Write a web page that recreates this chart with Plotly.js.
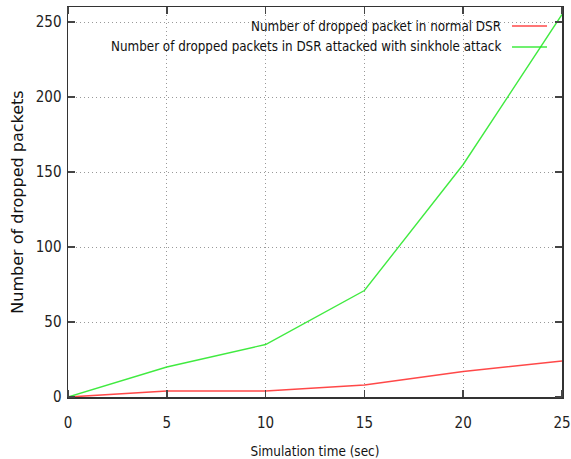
<!DOCTYPE html>
<html><head><meta charset="utf-8">
<script src="https://cdn.plot.ly/plotly-3.0.1.min.js"></script>
<style>html,body{margin:0;padding:0;background:#fff}#c{width:571px;height:459px}</style>
</head><body><div id="c"></div>
<script>
const timeSec = [0, 5, 10, 15, 20, 25];
const droppedNormal = [0, 4, 4, 8, 17, 24];
const droppedSinkhole = [0, 20, 35, 71, 155, 255];
const seriesNames = ["Number of dropped packet in normal DSR", "Number of dropped packets in DSR attacked with sinkhole attack"];
const xTicks = [0, 5, 10, 15, 20, 25];
const yTicks = [0, 50, 100, 150, 200, 250];

const FONT = "'DejaVu Sans Condensed', 'Liberation Sans Narrow', 'DejaVu Sans', sans-serif";
const lineColors = ["rgba(255,40,40,0.85)", "rgba(30,230,30,0.85)"];

const traces = [
  {x: timeSec, y: droppedNormal, name: seriesNames[0], mode: "lines", line: {color: lineColors[0], width: 1.6}},
  {x: timeSec, y: droppedSinkhole, name: seriesNames[1], mode: "lines", line: {color: lineColors[1], width: 1.4}}
];

function axis(vals, outLen) {
  return {
    showline: true, linecolor: "#333", linewidth: 1.5, mirror: "ticks",
    tickvals: vals, ticktext: vals.map(String),
    ticks: "outside", ticklen: outLen, tickwidth: 1, tickcolor: "rgba(0,0,0,0)",
    minor: {tickvals: vals, ticks: "inside", ticklen: 7, tickwidth: 1.5, tickcolor: "#444", showgrid: false},
    showgrid: true, gridcolor: "#999", griddash: "1px,3px", gridwidth: 1,
    zeroline: false, tickfont: {family: FONT, size: 15, color: "#222"}
  };
}

const legendY = [26, 47];
const annotations = seriesNames.map((n, i) => ({
  xref: "paper", yref: "paper", x: (503 - 68) / (562 - 68), y: (397 - legendY[i]) / (397 - 7),
  xanchor: "right", yanchor: "middle", text: n, showarrow: false,
  font: {family: FONT, size: 13.3, color: "#111"}
}));
const shapes = seriesNames.map((n, i) => ({
  type: "line", xref: "paper", yref: "paper",
  x0: (512 - 68) / (562 - 68), x1: (547 - 68) / (562 - 68),
  y0: (397 - legendY[i]) / (397 - 7), y1: (397 - legendY[i]) / (397 - 7),
  line: {color: lineColors[i], width: 1.5}
}));

const layout = {
  width: 571, height: 459,
  margin: {l: 68, r: 9, t: 7, b: 62},
  paper_bgcolor: "#fff", plot_bgcolor: "#fff",
  showlegend: false,
  xaxis: Object.assign(axis(xTicks, 11), {
    range: [0, 25],
    title: {text: "Simulation time (sec)", font: {family: FONT, size: 13.4, color: "#111"}, standoff: 16}
  }),
  yaxis: Object.assign(axis(yTicks, 2), {
    range: [0, 260],
    title: {text: "Number of dropped packets", font: {family: "'DejaVu Sans', sans-serif", size: 16, color: "#111"}, standoff: 8}
  }),
  annotations: annotations,
  shapes: shapes
};

Plotly.newPlot("c", traces, layout, {displayModeBar: false, staticPlot: true});
</script>
</body></html>
